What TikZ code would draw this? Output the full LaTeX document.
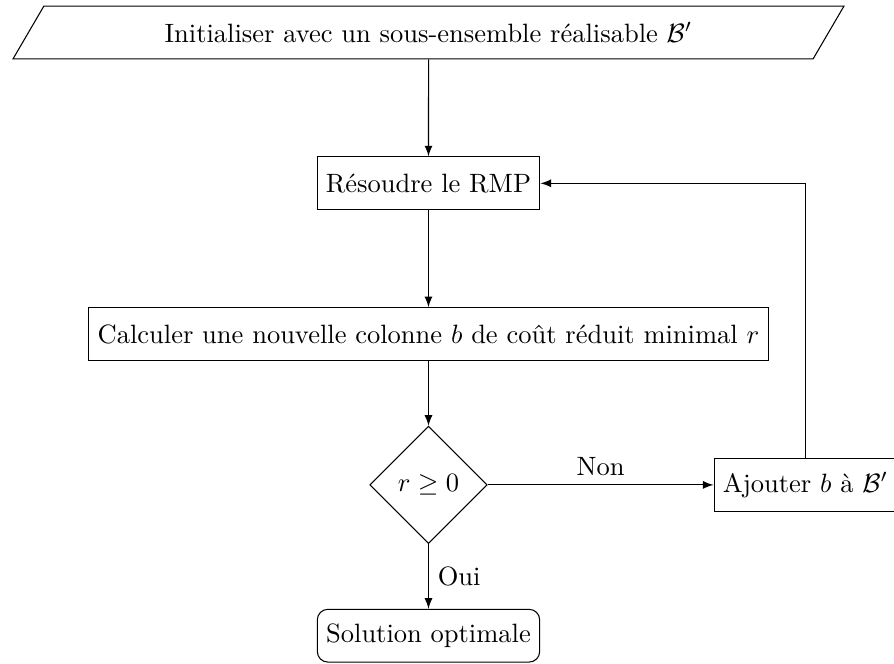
\documentclass[tikz,border=0pt]{standalone}
\usepackage{amsmath}
\usepackage{amssymb}
\usepackage{tikz}
\usetikzlibrary{shapes.geometric,arrows}

\begin{document}
\begin{tikzpicture}[
    >=latex,
    stepbox/.style={rectangle, draw, minimum height=0.7cm},
    startbox/.style={trapezium, trapezium left angle=60, trapezium right angle=120,
      trapezium stretches=true, draw, minimum width=11.05cm, minimum height=0.7cm},
    testbox/.style={diamond, draw, aspect=1},
    endbox/.style={rectangle, rounded corners, draw, minimum height=0.7cm}]
  \useasboundingbox (-5.683,0.431) rectangle (6.174,-8.375);
  % nodes
  \node[startbox] (init) at (0,0) {Initialiser avec un sous-ensemble r\'ealisable $\mathcal{B}'$};
  \node[stepbox] (rmp) at (0,-2) {R\'esoudre le RMP};
  \node[stepbox] (calc) at (0,-4) {Calculer une nouvelle colonne $b$ de co\^ut r\'eduit minimal $r$};
  \node[testbox] (test) at (0,-6) {$r \geq 0$};
  \node[stepbox] (add) at (5,-6) {Ajouter $b$ \`a $\mathcal{B}'$};
  \node[endbox] (sol) at (0,-8) {Solution optimale};
  % arrows
  \draw[->] (init) -- (rmp);
  \draw[->] (rmp) -- (calc);
  \draw[->] (calc) -- (test);
  \draw[->] (test) -- node[above] {Non} (add);
  \draw[->] (test) -- node[right] {Oui} (sol);
  \draw[->] (add) |- (rmp);
\end{tikzpicture}
\end{document}
